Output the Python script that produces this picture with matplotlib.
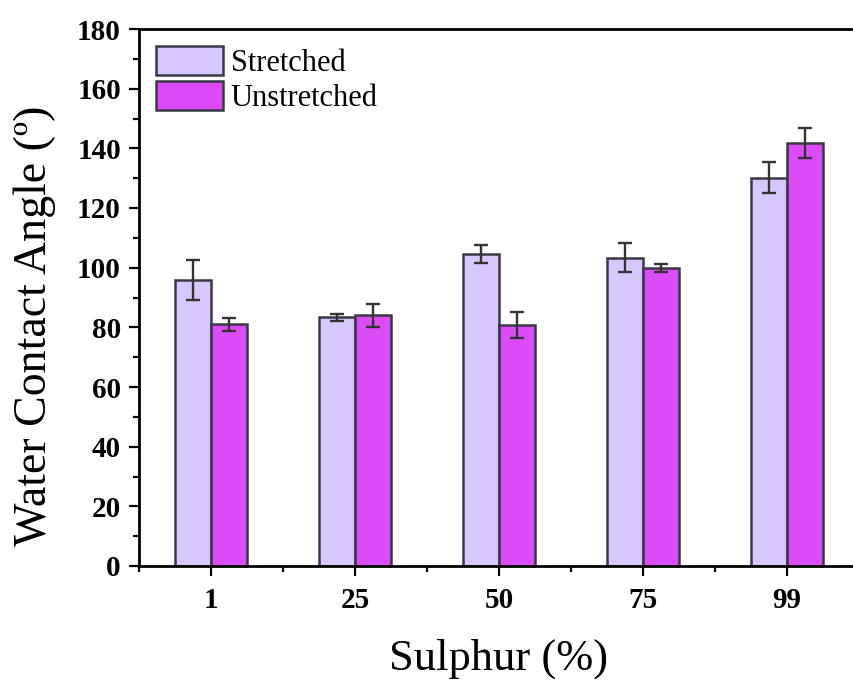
import numpy as np
import matplotlib.pyplot as plt
from matplotlib.ticker import MultipleLocator

plt.rcParams['font.family'] = ['Liberation Serif', 'DejaVu Serif']

# data
sulphur = ['1', '25', '50', '75', '99']
stretched = [96.0, 83.3, 104.6, 103.4, 130.1]
stretched_err = [6.7, 1.1, 3.0, 5.0, 5.2]
unstretched = [81.0, 84.0, 80.8, 99.8, 141.8]
unstretched_err = [2.2, 3.8, 4.4, 1.3, 5.1]

x = np.arange(len(sulphur))
w = 0.25

fig = plt.figure(figsize=(8.54, 6.8), dpi=100)
ax = fig.add_axes([139/854, 114/680, 720/854, 537/680])

edge = '#3b3745'
ekw = dict(elinewidth=1.7, capthick=1.7, ecolor='#333333')
ax.bar(x - w/2, stretched, w, yerr=stretched_err, color='#d8c6ff',
       edgecolor=edge, linewidth=1.8, capsize=4.8, error_kw=ekw,
       label='Stretched')
ax.bar(x + w/2, unstretched, w, yerr=unstretched_err, color='#dc4bf8',
       edgecolor=edge, linewidth=1.8, capsize=4.8, error_kw=ekw,
       label='Unstretched')

ax.set_xlim(-0.5, 4.5)
ax.set_ylim(0, 180)
ax.set_xticks(x)
ax.set_xticklabels(sulphur)
ax.set_xticks([-0.5] + list(x + 0.5), minor=True)
ax.yaxis.set_major_locator(MultipleLocator(20))
ax.yaxis.set_minor_locator(MultipleLocator(10))

for s in ['left', 'bottom', 'top']:
    ax.spines[s].set_linewidth(2.0)
ax.spines['right'].set_visible(False)

ax.tick_params(which='major', direction='out', length=7, width=1.6,
               labelsize=21)
ax.tick_params(axis='y', which='major', pad=6)
ax.tick_params(axis='x', which='major', pad=8)
ax.tick_params(which='minor', direction='out', length=4.5, width=1.6)
for lab in ax.get_xticklabels() + ax.get_yticklabels():
    lab.set_fontweight('bold')

ax.set_xlabel('Sulphur (%)', fontsize=32, labelpad=18)
ax.set_ylabel('Water Contact Angle (º)', fontsize=33, labelpad=15)
ax.yaxis.label.set_y(0.447)

ax.legend(loc='upper left', frameon=False, fontsize=22,
          handlelength=2.2, handleheight=1.08, labelspacing=0.12,
          handletextpad=0.25, borderpad=0.2, borderaxespad=0.35)

fig.savefig('out.png', dpi=100)
